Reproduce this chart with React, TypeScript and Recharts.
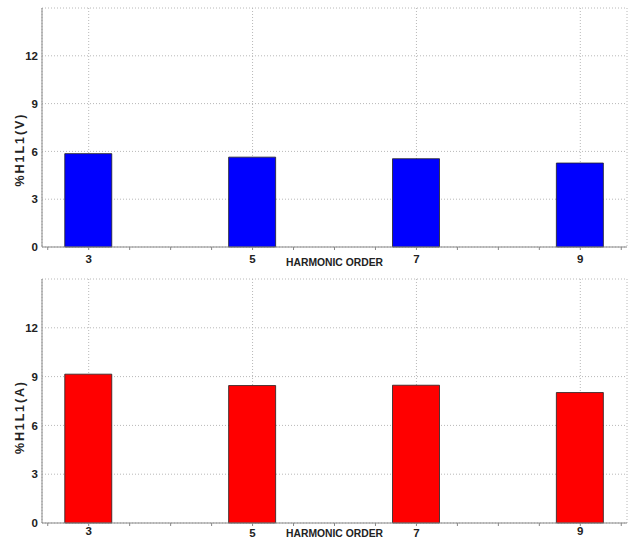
import React from "react";
import { BarChart, Bar, XAxis, YAxis, CartesianGrid, Label } from "recharts";

const harmonicOrders = [3, 5, 7, 9];
const voltageHarmonics = [5.86, 5.64, 5.54, 5.27];
const currentHarmonics = [9.15, 8.45, 8.47, 8.02];
const xTickValues = [2.5, 3, 3.5, 4, 4.5, 5, 5.5, 6, 6.5, 7, 7.5, 8, 8.5, 9, 9.5];
const xLabelValues = [3, 5, 7, 9];
const yTickValues = [0, 3, 6, 9, 12];
const xAxisTitle = "HARMONIC ORDER";
const voltageTitle = "%H1L1(V)";
const currentTitle = "%H1L1(A)";

const FONT = "'Liberation Sans Narrow', 'Arial Narrow', 'Liberation Sans', Arial, sans-serif";
const X_DOMAIN: [number, number] = [2.43, 9.57];

const voltageData = harmonicOrders.map((h, i) => ({ order: h, value: voltageHarmonics[i] }));
const currentData = harmonicOrders.map((h, i) => ({ order: h, value: currentHarmonics[i] }));

const XTick = (props: any) => {
  const { x, y, payload, lowered } = props;
  const v = payload.value;
  if (!xLabelValues.includes(v)) return <g />;
  const extra = lowered && (v === 5 || v === 7) ? 2 : 0;
  return (
    <text x={x} y={y + extra} dy="0.71em" textAnchor="middle" fontFamily={FONT} fontWeight="bold" fontSize={11.5} fill="#222">
      {v}
    </text>
  );
};

const EmptyTick = () => <g />;

const YTick = (props: any) => {
  const { x, y, payload } = props;
  return (
    <text x={x} y={y} dy="0.36em" textAnchor="end" fontFamily={FONT} fontWeight="bold" fontSize={11.5} fill="#222">
      {payload.value}
    </text>
  );
};

type PanelProps = {
  data: { order: number; value: number }[];
  color: string;
  title: string;
  height: number;
  top: number;
  xHeight: number;
  tickGap: number;
  titleShift: number;
  xTitleOffset: number;
  lowered?: boolean;
};

const Panel = ({ data, color, title, height, top, xHeight, tickGap, titleShift, xTitleOffset, lowered }: PanelProps) => (
  <BarChart width={632} height={height} data={data} margin={{ top, right: 5, bottom: 0, left: 0 }}>
    <CartesianGrid xAxisId="top" stroke="#b8b8b8" strokeDasharray="1 2" />
    <XAxis
      xAxisId="top"
      orientation="top"
      type="number"
      dataKey="order"
      domain={X_DOMAIN}
      allowDataOverflow
      ticks={xLabelValues}
      interval={0}
      height={0}
      tick={<EmptyTick />}
      tickLine={false}
      axisLine={{ stroke: "#999" }}
    />
    <YAxis
      yAxisId="right"
      orientation="right"
      domain={[0, 15]}
      width={0}
      tick={false}
      tickLine={false}
      axisLine={{ stroke: "#999" }}
    />
    <XAxis
      type="number"
      dataKey="order"
      domain={X_DOMAIN}
      allowDataOverflow
      ticks={xTickValues}
      interval={0}
      height={xHeight}
      tickSize={3}
      tickMargin={tickGap}
      tickLine={{ stroke: "#888" }}
      axisLine={{ stroke: "#888" }}
      tick={<XTick lowered={lowered} />}
    >
      <Label
        content={(p: any) => {
          const vb = p.viewBox;
          return (
            <text
              x={vb.x + vb.width / 2}
              y={vb.y + xTitleOffset}
              textAnchor="middle"
              dominantBaseline="central"
              fontFamily={FONT}
              fontWeight="bold"
              fontSize={11.5}
              fill="#222"
              textLength={97}
              lengthAdjust="spacingAndGlyphs"
            >
              {xAxisTitle}
            </text>
          );
        }}
      />
    </XAxis>
    <YAxis
      domain={[0, 15]}
      ticks={yTickValues}
      interval={0}
      width={42}
      tickSize={0}
      tickMargin={4}
      tickLine={false}
      axisLine={{ stroke: "#888" }}
      tick={<YTick />}
    >
      <Label
        content={(p: any) => {
          const vb = p.viewBox;
          const cx = 20;
          const cy = vb.y + vb.height / 2 + titleShift;
          return (
            <text
              x={cx}
              y={cy}
              transform={`rotate(-90 ${cx} ${cy})`}
              textAnchor="middle"
              dominantBaseline="central"
              fontFamily={FONT}
              fontWeight="bold"
              fontSize={12.5}
              fill="#222"
              textLength={72}
              lengthAdjust="spacing"
            >
              {title}
            </text>
          );
        }}
      />
    </YAxis>
    <Bar dataKey="value" fill={color} stroke="#222" strokeWidth={0.8} barSize={47} isAnimationActive={false} />
  </BarChart>
);

export default function App() {
  return (
    <div style={{ position: "absolute", left: 0, top: 0, width: 632, height: 539, background: "#fff" }}>
      <Panel
        data={voltageData}
        color="#0000ff"
        title={voltageTitle}
        height={270}
        top={8}
        xHeight={23}
        tickGap={5}
        titleShift={23}
        xTitleOffset={15}
      />
      <Panel
        data={currentData}
        color="#ff0000"
        title={currentTitle}
        height={269}
        top={9}
        xHeight={16}
        tickGap={1}
        titleShift={17}
        xTitleOffset={9.5}
        lowered
      />
    </div>
  );
}
